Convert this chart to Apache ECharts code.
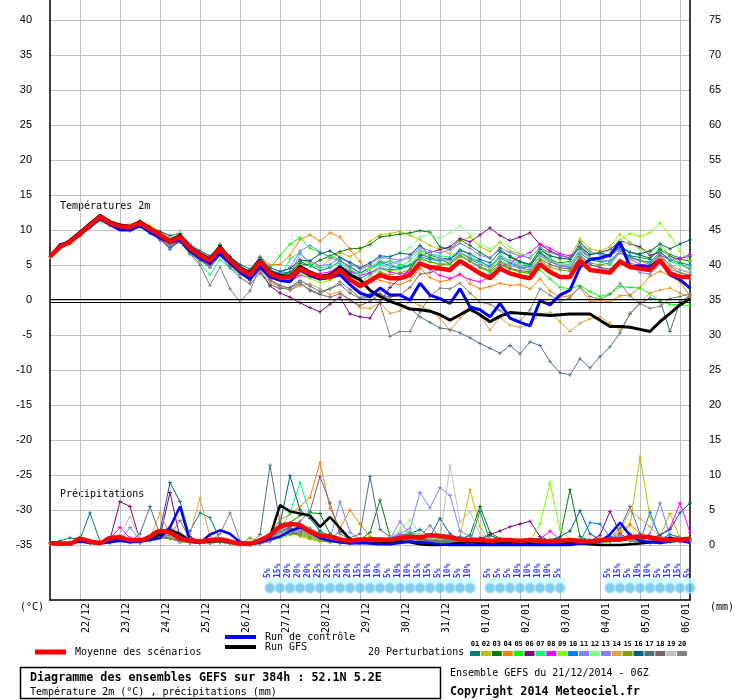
<!DOCTYPE html>
<html>
<head>
<meta charset="utf-8">
<script src="https://cdn.jsdelivr.net/npm/echarts@6/dist/echarts.min.js"></script>
<style>
  html, body { margin: 0; padding: 0; background: #fff; }
  #chart { width: 740px; height: 700px; }
</style>
</head>
<body>
<div id="chart"></div>
<script>
// pas de 6h depuis le 21/12 06Z, 65 échéances (0..384h)
const stepH = 6;
const dayLabels = ['22/12', '23/12', '24/12', '25/12', '26/12', '27/12', '28/12', '29/12',
    '30/12', '31/12', '01/01', '02/01', '03/01', '04/01', '05/01', '06/01'];
const leftTicks = [-35, -30, -25, -20, -15, -10, -5, 0, 5, 10, 15, 20, 25, 30, 35, 40];
const rightTicks = [0, 5, 10, 15, 20, 25, 30, 35, 40, 45, 50, 55, 60, 65, 70, 75];

const memberColors = ['#008080', '#c0c000', '#008000', '#ff8000', '#00ff00', '#800080', '#00ff80',
    '#ff00ff', '#80ff00', '#0080ff', '#8080ff', '#80ff80', '#8080f8', '#e0a040', '#80a000',
    '#006080', '#507080', '#806070', '#c0c0c0', '#808080'];

// températures 2m
const tMean = [6.2, 7.6, 8.3, 9.5, 10.7, 11.9, 11.0, 10.5, 10.4, 11.0, 10.1, 9.3, 8.3,
    9.0, 7.4, 6.4, 5.6, 7.4, 5.7, 4.4, 3.6, 5.5, 3.8, 3.2, 3.2, 4.5,
    3.8, 3.3, 3.3, 4.3, 2.9, 2.0, 2.7, 3.6, 3.1, 3.1, 3.6, 5.2, 4.7,
    4.5, 4.3, 5.6, 4.7, 3.8, 3.1, 4.5, 3.8, 3.4, 3.1, 5.1, 4.0, 3.3,
    3.3, 5.6, 4.3, 4.1, 3.9, 5.5, 4.7, 4.5, 4.3, 5.7, 3.8, 3.3, 3.3];
const tCtrl = [6.2, 7.9, 8.3, 9.3, 10.5, 11.6, 10.8, 10.0, 10.0, 10.6, 9.7, 8.9, 8.2,
    8.6, 7.0, 6.0, 5.2, 6.6, 5.3, 4.0, 3.0, 4.8, 3.3, 2.8, 2.6, 4.3,
    3.5, 3.0, 3.2, 3.6, 2.2, 1.0, 0.5, 1.7, 0.7, 0.7, 0.0, 2.4, 0.7,
    0.2, -0.5, 1.6, -1.0, -1.4, -2.4, -0.5, -2.6, -3.2, -3.7, -0.1, -0.7, 0.7,
    1.4, 4.7, 5.8, 6.0, 6.4, 8.3, 4.7, 4.9, 4.8, 5.7, 3.6, 2.9, 1.7];
const tGfs = [6.2, 7.7, 8.5, 9.7, 10.9, 12.1, 11.2, 10.7, 10.5, 11.2, 10.3, 9.4, 8.5,
    9.2, 7.6, 6.6, 5.8, 7.6, 5.9, 4.6, 3.9, 5.7, 4.0, 3.5, 3.4, 4.8,
    4.0, 3.4, 3.6, 4.7, 3.6, 2.9, 1.4, 0.5, -0.2, -0.7, -1.3, -1.4, -1.6,
    -2.1, -2.9, -2.1, -1.3, -2.1, -3.1, -2.3, -1.8, -1.9, -2.0, -2.1, -2.2, -2.1,
    -2.0, -2.0, -2.0, -2.9, -3.8, -3.8, -3.9, -4.2, -4.5, -3.1, -1.9, -0.7, 0.2];

const t01 = [6.2, 7.8, 8.4, 9.6, 10.9, 11.8, 11.1, 10.7, 10.6, 11.2, 10.0, 9.0, 8.6,
    9.3, 7.8, 6.8, 5.9, 7.6, 6.2, 4.9, 4.0, 5.8, 4.3, 3.8, 4.0, 5.5,
    4.9, 4.2, 4.6, 5.6, 4.8, 3.9, 4.5, 5.4, 4.9, 4.6, 5.0, 6.6, 6.0,
    5.8, 5.2, 6.9, 5.9, 5.1, 4.6, 6.2, 5.5, 4.9, 4.8, 6.8, 5.8, 5.2,
    5.0, 7.2, 6.0, 5.8, 5.4, 6.9, 6.3, 6.1, 5.8, 7.4, 6.5, 6.0, 6.2];
const t02 = [6.2, 7.5, 8.2, 9.4, 10.6, 11.7, 10.9, 10.4, 10.2, 10.9, 9.9, 9.1, 8.1,
    8.8, 7.2, 6.2, 5.3, 7.1, 5.5, 4.2, 3.4, 5.4, 3.6, 3.0, 3.5, 5.8,
    5.2, 4.6, 5.9, 6.8, 6.2, 7.0, 8.4, 9.3, 9.5, 9.8, 9.2, 8.6, 7.8,
    7.2, 6.6, 8.4, 9.0, 7.6, 6.9, 8.2, 7.0, 6.6, 5.9, 7.6, 6.4, 5.8,
    6.0, 8.8, 7.3, 7.0, 7.6, 9.4, 8.2, 7.4, 6.9, 8.0, 6.4, 5.4, 5.0];
const t03 = [6.2, 7.7, 8.4, 9.6, 10.8, 12.0, 11.2, 10.6, 10.5, 11.1, 10.3, 9.6, 8.7,
    9.3, 7.6, 6.7, 6.0, 7.9, 6.1, 4.6, 3.9, 5.7, 4.3, 3.6, 3.9, 5.2,
    4.9, 5.7, 6.3, 6.9, 7.3, 7.4, 7.9, 9.0, 9.2, 9.4, 9.6, 9.9, 9.7,
    7.6, 7.2, 8.6, 7.8, 6.8, 6.0, 7.3, 6.1, 5.4, 5.0, 6.7, 5.6, 5.3,
    5.5, 8.3, 6.9, 6.5, 6.2, 7.8, 6.8, 6.4, 6.0, 7.2, 6.2, 5.8, 5.6];
const t04 = [6.2, 7.6, 8.2, 9.3, 10.5, 11.6, 11.0, 10.8, 10.8, 11.3, 10.6, 9.8, 8.9,
    9.3, 7.8, 6.9, 6.1, 7.7, 6.0, 4.7, 4.0, 6.2, 5.0, 5.1, 6.4, 8.6,
    9.3, 8.4, 9.6, 9.0, 7.2, 5.5, 3.6, 2.8, 2.4, 2.2, 2.8, 4.5, 3.2,
    2.6, 2.9, 3.8, 2.3, 1.6, 1.9, 2.4, 2.1, 2.2, 1.6, 3.0, 1.3, 0.4,
    0.6, 1.8, -0.2, -0.1, -0.3, 0.6, 0.7, 1.8, 3.4, 4.1, 3.5, 2.6, 0.6];
const t05 = [6.2, 7.7, 8.3, 9.4, 10.6, 11.7, 11.0, 10.5, 10.3, 11.0, 10.2, 9.2, 8.2,
    8.9, 7.3, 6.3, 5.4, 7.2, 5.5, 4.3, 3.6, 5.4, 4.6, 6.3, 8.0, 8.9,
    7.4, 6.8, 6.2, 5.8, 4.4, 3.6, 4.4, 5.2, 5.6, 5.0, 4.8, 6.0, 5.4,
    5.2, 5.1, 6.2, 5.6, 4.6, 4.0, 5.0, 4.4, 4.0, 3.8, 4.3, 3.0, 1.8,
    1.6, 2.1, 1.2, 0.5, 0.9, 1.9, 1.8, 1.7, 0.9, -0.2, -0.6, -0.7, -0.8];
const t06 = [6.2, 7.5, 8.2, 9.4, 10.6, 11.8, 10.8, 10.3, 10.3, 10.9, 10.0, 9.2, 8.2,
    8.8, 7.1, 6.1, 5.3, 7.0, 5.2, 3.9, 2.8, 4.2, 2.0, 1.0, 0.4, -0.4,
    -1.1, -1.7, -0.6, 0.4, -2.0, -2.4, -2.6, -0.3, 1.8, 3.1, 4.4, 6.3, 6.8,
    7.2, 7.6, 8.8, 8.3, 9.3, 10.3, 9.2, 8.5, 9.0, 9.6, 7.9, 7.0, 6.4,
    6.0, 7.6, 6.5, 6.8, 7.2, 8.5, 8.0, 7.6, 6.4, 6.8, 5.8, 5.2, 4.4];
const t07 = [6.2, 7.6, 8.3, 9.3, 10.5, 11.4, 10.7, 10.2, 10.2, 10.8, 9.8, 8.9, 7.8,
    8.3, 6.5, 5.2, 3.6, 5.8, 4.6, 3.7, 3.3, 6.0, 4.5, 3.0, 5.9, 6.8,
    5.0, 4.6, 4.8, 5.3, 4.2, 3.6, 4.5, 5.1, 4.6, 4.8, 5.6, 7.0, 6.6,
    6.3, 6.1, 7.2, 6.5, 5.4, 4.8, 6.4, 5.6, 5.2, 5.0, 7.5, 6.0, 5.1,
    4.9, 7.3, 6.1, 5.5, 5.0, 6.8, 6.1, 5.7, 5.3, 6.9, 5.5, 5.0, 4.6];
const t08 = [6.2, 7.6, 8.4, 9.5, 10.6, 11.8, 11.1, 10.5, 10.2, 10.8, 9.6, 8.6, 7.6,
    8.7, 7.1, 6.0, 5.2, 7.2, 5.5, 4.3, 3.7, 5.0, 3.6, 2.9, 2.7, 3.5,
    3.3, 3.8, 4.0, 4.9, 4.1, 3.5, 3.9, 4.6, 4.0, 3.7, 4.0, 5.4, 4.4,
    3.5, 3.1, 3.6, 2.9, 2.6, 3.3, 4.8, 5.3, 6.2, 6.8, 8.0, 7.4, 6.6,
    6.3, 7.5, 6.1, 5.8, 5.4, 6.7, 5.9, 5.1, 4.9, 6.4, 5.8, 5.9, 6.5];
const t09 = [6.2, 7.5, 8.1, 9.1, 10.3, 11.2, 10.6, 10.2, 10.0, 10.7, 9.8, 9.0, 8.0,
    8.7, 7.0, 6.0, 5.4, 7.1, 5.6, 4.3, 3.4, 5.2, 3.4, 2.8, 2.8, 3.8,
    3.1, 2.5, 2.8, 3.6, 2.9, 2.4, 3.5, 4.4, 4.2, 4.3, 4.9, 6.7, 6.2,
    5.7, 5.5, 6.5, 6.0, 5.2, 4.5, 5.7, 5.1, 4.5, 4.1, 6.0, 5.4, 5.0,
    4.8, 6.9, 6.0, 5.7, 6.4, 8.5, 9.5, 9.1, 9.6, 11.0, 9.2, 7.0, 5.6];
const t10 = [6.2, 7.8, 8.5, 9.6, 10.8, 12.0, 11.2, 10.4, 9.9, 10.5, 9.5, 8.8, 7.2,
    8.6, 7.5, 6.5, 5.8, 7.6, 6.0, 4.6, 3.9, 5.8, 4.3, 3.5, 3.2, 4.4,
    3.6, 3.0, 3.6, 4.9, 3.9, 3.1, 3.8, 4.6, 4.3, 4.5, 4.9, 6.2, 5.8,
    5.6, 5.9, 6.8, 6.0, 5.5, 4.8, 6.0, 5.3, 4.7, 4.6, 6.3, 5.5, 4.9,
    4.6, 6.7, 5.7, 5.5, 5.6, 7.0, 6.2, 5.6, 5.4, 6.8, 5.8, 5.3, 5.0];
const t11 = [6.2, 7.7, 8.4, 9.5, 10.7, 11.9, 11.0, 10.3, 10.1, 10.7, 9.7, 8.6, 7.6,
    8.6, 7.2, 6.3, 5.7, 7.4, 5.9, 4.6, 3.8, 5.7, 4.3, 3.8, 4.6, 7.0,
    7.8, 6.9, 6.0, 5.6, 4.7, 3.8, 4.7, 5.6, 5.2, 5.6, 6.3, 7.6, 7.0,
    6.7, 7.2, 8.1, 7.4, 6.4, 6.0, 7.5, 6.8, 6.3, 6.0, 7.4, 6.8, 6.3,
    6.0, 7.9, 6.9, 6.5, 6.3, 7.2, 5.2, 3.9, 3.7, 5.2, 3.8, 3.4, 3.0];
const t12 = [6.2, 7.6, 8.2, 9.2, 10.4, 11.4, 10.7, 10.3, 10.1, 10.6, 9.8, 9.1, 8.2,
    8.7, 7.2, 6.3, 5.4, 7.2, 5.6, 4.4, 3.6, 5.5, 3.8, 3.1, 3.0, 4.1,
    3.7, 3.2, 3.4, 4.5, 3.6, 3.6, 4.5, 5.8, 6.2, 6.8, 7.5, 9.0, 9.4,
    8.8, 9.6, 10.6, 9.3, 8.0, 7.3, 8.4, 7.6, 6.6, 6.3, 7.1, 6.0, 5.2,
    5.4, 7.7, 6.8, 6.6, 7.0, 8.3, 8.1, 7.2, 6.8, 7.6, 6.0, 5.0, 4.3];
const t13 = [6.2, 7.5, 8.3, 9.4, 10.6, 11.7, 10.9, 10.4, 10.3, 10.9, 10.0, 9.2, 8.3,
    8.9, 7.2, 6.2, 5.5, 7.3, 5.8, 4.5, 3.8, 5.5, 3.9, 3.3, 3.7, 6.6,
    5.5, 4.9, 5.1, 6.0, 5.2, 4.4, 5.0, 6.1, 5.9, 5.7, 6.0, 7.3, 6.6,
    6.0, 5.5, 6.4, 5.6, 4.8, 4.2, 5.5, 4.9, 4.6, 4.3, 6.4, 5.6, 5.0,
    4.7, 6.5, 5.1, 4.6, 4.2, 5.6, 4.9, 4.4, 4.1, 5.8, 4.4, 3.9, 3.6];
const t14 = [6.2, 7.7, 8.4, 9.5, 10.7, 11.9, 11.1, 10.6, 10.6, 11.1, 10.3, 9.5, 8.6,
    9.0, 7.5, 6.6, 5.7, 7.3, 5.3, 3.9, 2.9, 4.1, 2.5, 1.8, 1.4, 2.0,
    2.3, 1.6, 0.8, 1.2, 0.0, -1.1, -1.2, -0.4, -1.9, -1.6, -0.1, -0.8, -1.5,
    -2.6, -4.4, -2.6, -1.4, -2.2, -4.3, -2.5, -3.6, -3.9, -3.5, -2.0, -1.8, -3.1,
    -4.5, -3.3, -2.7, -2.4, -3.3, -4.3, -2.1, -0.3, 1.0, 1.4, 1.7, 1.0, 0.4];
const t15 = [6.2, 7.6, 8.3, 9.4, 10.5, 11.6, 10.8, 10.4, 10.3, 10.8, 10.1, 9.4, 8.5,
    9.1, 7.4, 6.4, 5.8, 7.5, 5.9, 4.6, 3.7, 5.3, 3.7, 3.1, 3.2, 4.0,
    3.4, 3.0, 3.1, 3.9, 3.0, 2.3, 3.0, 4.0, 3.6, 3.9, 4.3, 5.8, 5.5,
    5.0, 5.2, 6.3, 5.5, 4.6, 4.2, 5.4, 4.6, 4.0, 3.8, 5.6, 4.7, 4.3,
    4.1, 6.2, 5.3, 5.0, 5.3, 6.8, 6.0, 5.6, 5.1, 6.6, 4.8, 3.9, 3.5];
const t16 = [6.2, 7.6, 8.4, 9.6, 10.9, 11.9, 11.0, 10.5, 10.4, 11.0, 10.2, 9.8, 9.2,
    9.5, 8.0, 7.0, 6.3, 7.8, 6.2, 5.1, 4.4, 6.1, 4.6, 4.1, 4.5, 5.7,
    5.6, 6.6, 7.0, 6.1, 5.4, 4.6, 5.3, 6.3, 6.2, 6.7, 6.5, 7.8, 6.4,
    6.0, 5.8, 7.1, 6.6, 5.8, 5.3, 6.9, 6.3, 5.5, 5.1, 7.2, 6.3, 6.0,
    5.8, 7.6, 6.5, 6.7, 6.4, 7.5, 6.8, 6.6, 7.0, 8.0, 7.3, 8.0, 8.6];
const t17 = [6.2, 7.7, 8.5, 9.7, 10.9, 12.0, 11.1, 10.4, 10.1, 10.7, 9.7, 8.6, 7.5,
    8.3, 6.8, 5.7, 4.6, 6.4, 4.6, 3.2, 2.3, 3.8, 2.2, 1.6, 1.8, 2.8,
    2.0, 1.2, 1.6, 2.2, 1.0, 0.2, 0.4, 0.9, 0.0, -0.7, -1.2, -2.4, -3.2,
    -4.0, -4.2, -4.7, -5.4, -6.2, -6.9, -7.6, -6.5, -7.7, -6.0, -6.5, -8.8, -10.4,
    -10.7, -8.4, -9.7, -8.1, -6.7, -4.7, -1.9, -0.5, 0.3, 0.0, -4.5, -0.2, 0.6];
const t18 = [6.2, 7.5, 8.1, 9.2, 10.3, 11.5, 10.6, 10.1, 10.0, 10.6, 9.6, 8.7, 7.6,
    8.3, 6.6, 5.6, 4.9, 6.7, 5.0, 3.7, 2.8, 4.4, 2.9, 2.1, 1.7, 2.5,
    1.3, 0.8, 0.4, 0.9, 0.0, -0.8, -0.2, 0.8, 0.4, 0.7, 1.8, 3.7, 3.9,
    4.4, 4.1, 5.4, 4.6, 3.9, 3.6, 5.1, 4.5, 4.2, 4.0, 5.8, 5.1, 4.6,
    4.4, 6.0, 5.0, 4.7, 4.4, 5.7, 5.2, 5.0, 4.8, 6.2, 5.0, 4.3, 3.9];
const t19 = [6.2, 7.6, 8.3, 9.4, 10.6, 11.7, 10.9, 10.5, 10.6, 11.0, 10.0, 9.4, 8.8,
    9.9, 8.1, 6.7, 5.7, 7.2, 5.6, 4.4, 3.6, 5.2, 3.6, 3.0, 3.1, 4.0,
    3.5, 3.0, 3.2, 4.1, 3.2, 2.6, 3.4, 4.6, 5.0, 5.4, 6.2, 7.3, 6.6,
    6.0, 5.5, 6.8, 6.2, 5.2, 4.6, 6.1, 5.5, 4.9, 4.6, 6.3, 5.6, 5.1,
    5.0, 6.9, 6.0, 5.8, 5.4, 6.8, 5.8, 5.0, 4.4, 6.0, 5.0, 4.3, 4.0];
const t20 = [6.2, 7.6, 8.3, 9.5, 10.6, 11.8, 10.9, 10.3, 10.2, 10.7, 9.9, 9.0, 7.9,
    8.5, 6.7, 5.0, 2.1, 4.7, 1.6, -0.3, 1.3, 4.8, 2.8, 1.9, 1.4, 2.3,
    1.5, 0.9, 1.6, 2.6, 1.5, 0.3, 0.9, -0.5, -5.2, -4.5, -4.5, -1.7, 0.5,
    1.7, 1.6, 2.4, 1.0, -0.3, -0.6, -1.5, -2.6, -3.0, -1.4, 1.6, 0.7, -0.2,
    0.3, 1.9, 0.5, 0.1, 0.8, 2.4, 0.6, -0.5, -1.2, -0.9, 0.2, 0.5, 0.9];

// précipitations (mm, axe de droite)
const pMean = [0.3, 0.2, 0.2, 0.9, 0.5, 0.3, 1.0, 1.1, 0.7, 0.7, 1.2, 2.0, 1.8,
    0.9, 0.7, 0.5, 0.7, 0.8, 0.5, 0.2, 0.2, 0.7, 1.4, 2.6, 3.0, 2.8,
    1.9, 1.4, 1.2, 0.8, 0.6, 0.8, 0.8, 0.8, 0.7, 1.0, 1.1, 1.1, 1.4,
    1.3, 1.1, 0.8, 0.7, 0.7, 0.6, 0.7, 0.7, 0.6, 0.7, 0.6, 0.5, 0.6,
    0.7, 0.6, 0.5, 0.7, 0.8, 0.8, 1.1, 1.2, 1.1, 0.8, 0.7, 0.8, 0.9];
const pCtrl = [0.2, 0.1, 0.2, 0.5, 0.3, 0.2, 0.4, 0.6, 0.4, 0.5, 0.7, 1.0, 2.5,
    5.5, 0.5, 0.3, 1.5, 2.1, 1.6, 0.4, 0.2, 0.4, 0.8, 1.2, 2.0, 2.5,
    1.8, 1.0, 0.6, 0.4, 0.2, 0.3, 0.2, 0.1, 0.1, 0.3, 0.5, 0.4, 0.3,
    0.1, 0.0, 0.0, 0.0, 0.0, 0.0, 0.0, 0.0, 0.0, 0.0, 0.0, 0.0, 0.0,
    0.0, 0.2, 0.3, 0.5, 1.5, 3.2, 1.4, 0.6, 0.4, 0.3, 0.5, 0.6, 0.3];
const pGfs = [0.3, 0.2, 0.2, 0.8, 0.4, 0.3, 0.8, 1.0, 0.6, 0.6, 1.0, 1.5, 2.1,
    1.6, 0.6, 0.4, 0.5, 0.6, 0.4, 0.2, 0.1, 0.4, 1.2, 5.7, 4.8, 4.5,
    4.2, 2.6, 4.0, 2.4, 0.8, 0.4, 0.3, 0.2, 0.3, 0.5, 0.4, 0.1, 0.0,
    0.0, 0.1, 0.3, 0.4, 0.3, 0.2, 0.3, 0.4, 0.3, 0.2, 0.1, 0.2, 0.3,
    0.3, 0.2, 0.1, 0.0, 0.0, 0.0, 0.1, 0.2, 0.4, 0.6, 1.0, 0.8, 1.0];

const p01 = [0.3, 0.6, 1.0, 0.8, 4.6, 0.5, 0.3, 0.6, 0.4, 0.3, 0.7, 1.2, 1.0,
    0.4, 2.0, 4.6, 3.9, 0.8, 0.3, 0.1, 0.0, 0.3, 0.8, 1.8, 2.4, 1.6,
    1.2, 0.9, 0.6, 0.4, 0.3, 0.6, 0.8, 0.5, 0.4, 0.9, 1.5, 0.7, 0.6,
    0.8, 0.4, 0.3, 0.5, 4.8, 0.6, 0.3, 0.4, 0.2, 0.2, 0.3, 0.5, 0.4,
    0.3, 0.6, 0.5, 0.8, 1.0, 0.7, 0.9, 0.5, 0.6, 0.8, 1.5, 1.1, 0.9];
const p02 = [0.2, 0.2, 0.4, 0.6, 0.3, 0.2, 0.5, 0.8, 0.6, 0.4, 0.9, 1.6, 1.2,
    0.6, 0.4, 0.2, 0.3, 0.5, 0.2, 0.1, 0.1, 0.2, 0.6, 1.4, 2.0, 1.2,
    0.8, 0.5, 0.6, 0.3, 0.4, 0.5, 0.6, 0.5, 0.8, 1.0, 1.2, 0.9, 1.4,
    1.0, 0.8, 1.2, 7.9, 2.6, 0.4, 0.5, 0.3, 0.6, 0.4, 0.3, 0.5, 0.3,
    0.2, 0.4, 0.6, 0.3, 0.8, 1.5, 2.8, 12.6, 4.0, 1.2, 4.5, 1.0, 0.6];
const p03 = [0.3, 0.2, 0.3, 0.5, 0.4, 0.3, 0.6, 0.7, 0.4, 0.5, 0.8, 1.8, 2.6,
    1.4, 0.6, 0.4, 0.3, 0.4, 0.3, 0.2, 0.1, 0.3, 1.0, 2.5, 3.2, 4.2,
    4.6, 4.5, 1.6, 0.8, 0.5, 0.7, 1.8, 6.4, 1.2, 0.8, 0.6, 0.9, 1.0,
    0.7, 0.5, 0.8, 1.4, 5.5, 1.8, 0.9, 0.6, 0.4, 0.3, 0.5, 0.8, 1.0,
    7.9, 1.2, 0.6, 0.4, 0.5, 0.7, 1.6, 0.8, 0.6, 1.2, 0.9, 0.7, 0.5];
const p04 = [0.2, 0.3, 0.2, 0.4, 0.3, 0.2, 0.5, 0.9, 0.5, 0.6, 1.0, 1.4, 1.6,
    1.0, 0.6, 0.3, 0.5, 0.6, 0.3, 0.2, 0.1, 0.4, 1.6, 3.6, 4.4, 5.5,
    6.8, 11.8, 5.2, 2.4, 5.0, 3.0, 1.2, 0.8, 0.6, 0.9, 1.1, 0.8, 0.7,
    0.6, 0.5, 0.4, 0.6, 0.5, 1.4, 0.8, 0.5, 0.4, 0.3, 0.4, 0.6, 0.5,
    0.4, 0.7, 0.6, 0.5, 0.8, 1.8, 3.0, 1.6, 0.9, 0.7, 0.6, 0.5, 0.8];
const p05 = [0.3, 0.2, 0.3, 1.2, 0.5, 0.3, 0.6, 0.8, 0.5, 0.6, 0.9, 1.3, 1.2,
    0.8, 0.5, 0.3, 0.4, 0.5, 0.3, 0.2, 0.1, 0.2, 0.8, 1.6, 2.2, 2.8,
    2.4, 1.6, 1.0, 0.6, 0.4, 0.5, 0.6, 0.7, 0.8, 1.2, 1.9, 1.4, 1.0,
    0.9, 0.7, 0.5, 0.6, 0.8, 0.6, 0.4, 0.5, 0.6, 0.4, 0.3, 0.7, 0.6,
    0.5, 0.8, 0.4, 0.3, 0.6, 0.9, 1.2, 0.8, 0.5, 0.4, 0.6, 0.8, 0.7];
const p06 = [0.2, 0.2, 0.3, 0.6, 0.4, 0.3, 0.8, 6.2, 5.5, 0.6, 0.8, 1.2, 7.5,
    1.0, 0.4, 0.3, 0.4, 0.5, 0.2, 0.1, 0.1, 0.2, 0.6, 1.2, 1.8, 1.6,
    1.2, 0.8, 0.6, 0.4, 0.3, 0.4, 0.5, 0.4, 0.6, 0.8, 1.0, 0.7, 0.6,
    0.5, 0.4, 0.6, 0.5, 0.8, 1.5, 2.0, 2.6, 3.0, 3.4, 1.2, 0.6, 0.5,
    0.4, 0.6, 0.5, 1.4, 4.8, 1.6, 0.8, 0.5, 0.4, 0.6, 0.5, 0.7, 0.6];
const p07 = [0.3, 0.3, 0.2, 0.5, 0.6, 0.3, 0.5, 0.7, 0.5, 0.4, 0.8, 1.4, 1.1,
    0.7, 0.5, 0.3, 0.4, 0.6, 0.3, 0.2, 0.1, 0.3, 0.9, 2.2, 4.6, 8.9,
    4.5, 2.0, 1.2, 0.8, 0.6, 0.5, 0.7, 0.6, 0.9, 1.4, 1.8, 1.1, 0.8,
    0.6, 0.5, 0.4, 0.5, 0.6, 0.5, 0.3, 0.4, 0.5, 0.3, 0.4, 0.6, 0.5,
    0.4, 0.5, 0.6, 0.4, 0.7, 1.0, 0.8, 0.6, 0.5, 0.4, 0.6, 0.7, 0.5];
const p08 = [0.2, 0.2, 0.3, 0.8, 0.5, 0.3, 0.9, 2.5, 1.0, 0.6, 0.7, 1.0, 1.1,
    0.6, 0.4, 0.2, 0.3, 0.4, 0.2, 0.1, 0.0, 0.2, 0.5, 1.4, 2.2, 2.4,
    1.6, 0.9, 0.5, 0.3, 0.3, 0.4, 0.5, 0.6, 0.7, 1.6, 1.2, 0.8, 0.6,
    0.5, 0.4, 0.3, 0.5, 0.4, 0.6, 0.8, 0.5, 0.4, 0.6, 0.8, 2.0, 0.7,
    0.5, 0.4, 0.6, 0.5, 0.7, 0.9, 0.8, 0.6, 0.7, 1.4, 2.4, 6.0, 1.8];
const p09 = [0.3, 0.2, 0.2, 0.5, 0.3, 0.2, 0.4, 0.6, 0.4, 0.3, 0.6, 1.0, 0.9,
    0.5, 0.3, 0.2, 0.3, 0.4, 0.2, 0.1, 0.1, 0.2, 0.6, 1.0, 1.4, 1.6,
    1.2, 0.7, 0.4, 0.3, 0.2, 0.3, 0.4, 0.3, 0.5, 0.8, 1.0, 0.6, 0.4,
    0.4, 0.3, 0.4, 0.5, 0.4, 0.3, 0.2, 0.3, 0.4, 0.5, 3.0, 8.9, 2.2,
    0.8, 0.5, 0.4, 0.3, 0.5, 0.6, 0.8, 0.5, 0.4, 0.3, 0.5, 0.7, 0.6];
const p10 = [0.2, 0.3, 0.2, 0.6, 0.4, 0.3, 0.5, 0.8, 0.6, 0.5, 0.8, 1.2, 1.0,
    0.6, 0.4, 0.3, 0.4, 0.6, 0.3, 0.2, 0.1, 0.2, 0.6, 1.2, 1.6, 1.8,
    1.4, 0.8, 0.5, 0.4, 0.3, 0.5, 0.6, 0.5, 0.7, 1.0, 1.3, 0.9, 0.7,
    0.6, 0.8, 1.2, 0.9, 0.6, 0.4, 0.3, 0.5, 0.4, 0.3, 0.4, 0.5, 0.4,
    0.3, 0.5, 3.2, 3.0, 1.2, 0.8, 0.6, 0.5, 4.7, 0.9, 0.6, 0.5, 0.8];
const p11 = [0.3, 0.2, 0.3, 0.7, 0.5, 0.3, 0.6, 1.0, 0.7, 0.5, 0.9, 1.6, 2.2,
    0.9, 0.5, 0.3, 0.5, 0.6, 0.3, 0.2, 0.1, 0.3, 1.0, 2.0, 2.6, 3.0,
    2.2, 1.4, 0.9, 6.2, 1.8, 0.8, 0.6, 0.7, 1.0, 1.6, 2.4, 7.5, 5.3,
    8.2, 7.1, 2.0, 1.2, 0.8, 0.6, 0.4, 0.5, 0.6, 0.4, 0.5, 0.6, 0.5,
    0.4, 0.6, 0.8, 0.5, 0.9, 1.4, 1.0, 0.8, 1.6, 6.0, 1.2, 0.8, 0.6];
const p12 = [0.2, 0.2, 0.3, 0.5, 0.4, 0.3, 0.5, 0.6, 0.5, 0.4, 0.7, 1.1, 1.0,
    0.6, 0.4, 0.2, 0.3, 0.5, 0.3, 0.1, 0.1, 0.2, 0.7, 1.4, 1.8, 2.4,
    1.6, 1.0, 0.6, 0.4, 0.3, 0.4, 0.5, 0.6, 0.9, 2.2, 3.6, 1.6, 0.8,
    0.6, 0.5, 0.4, 0.6, 0.5, 0.4, 0.3, 0.4, 0.5, 0.4, 0.6, 0.8, 0.5,
    0.4, 0.5, 0.6, 0.4, 0.6, 0.8, 0.7, 0.5, 0.6, 0.5, 0.7, 0.9, 0.6];
const p13 = [0.3, 0.2, 0.2, 0.6, 0.4, 0.2, 0.5, 0.7, 2.5, 0.6, 0.7, 1.3, 1.2,
    0.7, 0.4, 0.3, 0.4, 0.5, 0.2, 0.1, 0.1, 0.3, 0.8, 1.6, 2.0, 2.2,
    1.8, 1.1, 0.7, 0.5, 0.4, 0.5, 0.6, 0.5, 0.8, 3.4, 1.5, 1.0, 0.7,
    0.6, 0.5, 0.7, 0.6, 0.5, 0.6, 0.4, 0.3, 0.4, 0.5, 0.6, 0.7, 0.4,
    0.3, 0.4, 0.5, 0.6, 0.8, 1.2, 0.9, 0.6, 0.5, 0.7, 0.8, 0.6, 0.5];
const p14 = [0.2, 0.2, 0.3, 0.6, 0.4, 0.3, 0.6, 0.9, 0.7, 0.6, 1.0, 4.6, 1.4,
    0.8, 1.6, 6.7, 1.2, 0.6, 0.3, 0.2, 0.0, 0.2, 0.6, 1.4, 2.0, 1.8,
    1.4, 0.8, 0.5, 0.4, 0.3, 0.5, 0.6, 0.4, 0.6, 1.0, 1.4, 1.0, 0.7,
    0.5, 0.4, 0.6, 0.5, 0.4, 0.3, 0.5, 0.6, 0.4, 0.3, 0.5, 0.6, 0.4,
    0.3, 0.5, 0.6, 0.4, 0.8, 2.0, 4.9, 3.8, 2.6, 1.2, 0.8, 0.6, 0.5];
const p15 = [0.3, 0.2, 0.2, 0.5, 0.3, 0.2, 0.4, 0.6, 0.5, 0.4, 0.7, 1.0, 0.9,
    0.5, 0.3, 0.2, 0.3, 0.4, 0.2, 0.1, 1.0, 0.4, 0.6, 1.2, 1.6, 1.4,
    1.0, 0.6, 0.4, 0.3, 0.2, 0.3, 0.4, 0.3, 0.5, 0.7, 0.9, 0.6, 0.5,
    0.4, 0.3, 0.4, 0.5, 0.3, 0.2, 0.3, 0.4, 0.3, 0.2, 0.4, 0.5, 0.3,
    0.2, 0.4, 0.5, 0.3, 0.5, 0.7, 0.6, 0.4, 0.3, 0.4, 0.5, 0.6, 0.4];
const p16 = [0.3, 0.3, 0.2, 0.6, 0.5, 0.3, 0.6, 0.8, 0.6, 0.5, 0.9, 2.0, 8.9,
    6.2, 1.2, 0.5, 0.4, 0.5, 0.3, 0.2, 0.1, 0.3, 1.2, 3.0, 9.9, 5.0,
    3.8, 2.0, 1.2, 0.8, 0.6, 0.7, 0.9, 0.8, 1.0, 1.2, 1.6, 2.2, 1.2,
    3.8, 1.6, 0.8, 0.6, 1.0, 1.4, 0.8, 0.5, 0.6, 0.8, 0.9, 0.6, 1.2,
    2.0, 4.9, 1.6, 0.8, 0.6, 0.9, 1.2, 0.8, 1.0, 1.4, 2.2, 4.6, 6.0];
const p17 = [0.2, 0.2, 0.3, 0.6, 0.4, 0.3, 0.6, 0.8, 0.5, 1.6, 5.5, 1.4, 1.2,
    0.8, 0.5, 0.3, 0.4, 0.5, 0.3, 0.2, 0.1, 1.5, 11.4, 3.2, 2.4, 2.0,
    1.6, 1.0, 0.8, 2.0, 1.0, 1.6, 9.8, 2.2, 1.2, 0.9, 1.0, 0.8, 0.6,
    0.5, 0.4, 0.5, 0.6, 0.4, 0.3, 0.4, 0.5, 0.4, 0.3, 0.5, 0.6, 0.4,
    0.3, 0.5, 0.4, 0.6, 0.9, 2.4, 5.5, 1.6, 0.8, 0.6, 0.9, 0.7, 0.5];
const p18 = [0.3, 0.2, 0.2, 0.5, 0.4, 0.2, 0.5, 0.7, 0.5, 0.4, 0.8, 1.2, 1.0,
    0.6, 0.4, 0.3, 0.4, 0.5, 0.3, 0.2, 0.1, 0.3, 0.9, 1.8, 2.6, 3.4,
    4.8, 9.8, 6.0, 1.6, 0.8, 0.6, 0.7, 0.6, 0.8, 1.0, 1.2, 0.9, 0.7,
    0.6, 0.5, 0.4, 0.5, 0.4, 0.3, 0.4, 0.5, 0.4, 0.3, 0.4, 0.6, 0.5,
    0.4, 0.5, 0.6, 0.5, 0.7, 1.0, 0.8, 0.6, 0.5, 0.6, 0.8, 0.7, 0.6];
const p19 = [0.2, 0.2, 0.3, 0.6, 0.4, 0.3, 0.6, 1.5, 4.0, 0.8, 0.9, 1.4, 1.2,
    0.7, 0.5, 0.3, 0.4, 0.5, 0.3, 0.1, 0.1, 0.3, 0.8, 1.6, 2.0, 2.2,
    1.6, 1.0, 0.7, 0.5, 0.4, 0.5, 0.6, 0.8, 1.2, 1.8, 2.0, 1.4, 1.0,
    0.8, 11.4, 3.3, 4.8, 1.6, 0.8, 0.5, 0.6, 0.4, 0.3, 0.5, 0.6, 0.4,
    0.3, 0.5, 0.6, 0.4, 0.6, 0.9, 0.7, 0.5, 0.6, 0.5, 0.7, 0.8, 0.6];
const p20 = [0.3, 0.2, 0.2, 0.6, 0.4, 0.3, 0.5, 0.8, 0.5, 0.4, 0.7, 1.2, 1.4,
    3.5, 0.8, 0.4, 0.6, 1.6, 4.6, 0.6, 0.2, 0.4, 1.0, 2.2, 2.8, 3.0,
    2.4, 1.6, 1.0, 0.7, 0.5, 0.6, 0.7, 0.6, 0.8, 1.2, 1.6, 1.2, 2.8,
    1.0, 0.6, 0.5, 0.6, 0.5, 0.4, 0.5, 0.6, 0.5, 0.4, 0.5, 0.7, 0.5,
    0.4, 0.6, 0.5, 0.4, 0.6, 0.8, 0.7, 0.5, 0.6, 0.5, 0.8, 0.9, 0.7];

// probabilité de neige (%) par échéance, null = rien
const snowPct = [null, null, null, null, null, null, null, null, null, null, null, null, null,
    null, null, null, null, null, null, null, null, null, 5, 15, 20, 20,
    20, 25, 25, 25, 20, 15, 10, 10, 5, 10, 10, 15, 15,
    5, 10, 5, 10, null, 5, 5, 5, 10, 10, 10, 10, 5,
    null, null, null, null, 5, 15, 5, 10, 10, 5, 15, 15, 5];

const memberTemps = [t01, t02, t03, t04, t05, t06, t07, t08, t09, t10,
    t11, t12, t13, t14, t15, t16, t17, t18, t19, t20];
const memberPrecs = [p01, p02, p03, p04, p05, p06, p07, p08, p09, p10,
    p11, p12, p13, p14, p15, p16, p17, p18, p19, p20];

const MONO = '"DejaVu Sans Mono", "Liberation Mono", monospace';
const SANS = '"Liberation Sans", Arial, sans-serif';
const PX_PER_DEG = 7;
const halfRange = 300 / PX_PER_DEG;      // plot 600px haut, 0°C au milieu
const precOffset = 35;                    // 0 mm = -35 °C

function toPairs(arr) {
    return arr.map((v, k) => [k * stepH, v]);
}

const gridHours = dayLabels.map((d, i) => 18 + 24 * i);
const labelHours = gridHours.map(h => h + 3.6);
const plusSymbol = 'path://M2,0H3V2H5V3H3V5H2V3H0V2H2Z';

let series = [];

// double ligne du zéro
series.push({
    type: 'line', data: [], silent: true, z: 1,
    markLine: {
        silent: true, symbol: 'none', label: {show: false},
        lineStyle: {color: '#000', width: 1, type: 'solid'},
        data: [{yAxis: 0.15}, {yAxis: -0.25}]
    }
});

memberTemps.forEach((arr, i) => {
    series.push({
        name: 'T' + (i + 1), type: 'line', yAxisIndex: 0, data: toPairs(arr),
        symbol: plusSymbol, symbolSize: 4, showAllSymbol: true,
        lineStyle: {color: memberColors[i], width: 1},
        itemStyle: {color: memberColors[i]}, z: 2
    });
});
memberPrecs.forEach((arr, i) => {
    series.push({
        name: 'P' + (i + 1), type: 'line', yAxisIndex: 1, data: toPairs(arr),
        symbol: plusSymbol, symbolSize: 4, showAllSymbol: true,
        lineStyle: {color: memberColors[i], width: 1},
        itemStyle: {color: memberColors[i]}, z: 2
    });
});

const mains = [
    {t: tGfs, p: pGfs, color: '#000000', wt: 3, wp: 2.5, smooth: false},
    {t: tCtrl, p: pCtrl, color: '#0000ff', wt: 3, wp: 2.5, smooth: false},
    {t: tMean, p: pMean, color: '#ff0000', wt: 4.5, wp: 4.5, smooth: 0.4}
];
mains.forEach(m => {
    series.push({
        type: 'line', yAxisIndex: 0, data: toPairs(m.t), symbol: 'none',
        lineStyle: {color: m.color, width: m.wt}, z: 3
    });
    series.push({
        type: 'line', yAxisIndex: 1, data: toPairs(m.p), symbol: 'none', smooth: m.smooth,
        lineStyle: {color: m.color, width: m.wp}, z: 3
    });
});

// bandeau neige
const snowPts = [];
snowPct.forEach((v, k) => {
    if (v !== null) snowPts.push({k: k, v: v});
});
series.push({
    type: 'scatter', yAxisIndex: 0, silent: true, z: 4,
    symbol: 'rect', symbolSize: [10, 5],
    itemStyle: {color: '#ccffff'},
    data: snowPts.map(s => [s.k * stepH, (300 - 580.5) / PX_PER_DEG])
});
series.push({
    type: 'scatter', yAxisIndex: 0, silent: true, z: 5,
    symbol: 'circle', symbolSize: 10,
    itemStyle: {color: '#62c2ec', borderColor: '#a8e2f8', borderWidth: 1.5},
    data: snowPts.map(s => [s.k * stepH, (300 - 588) / PX_PER_DEG])
});
series.push({
    type: 'scatter', yAxisIndex: 0, silent: true, z: 6,
    symbolSize: 0,
    label: {
        show: true, position: [0, 0], rotate: 90, align: 'left', verticalAlign: 'middle',
        formatter: p => p.data[2] + '%',
        color: '#0000ff', fontFamily: MONO, fontWeight: 'bold', fontSize: 8
    },
    data: snowPts.map(s => [s.k * stepH - 1.5, (300 - 578) / PX_PER_DEG, s.v])
});

const legendItems = [];
memberColors.forEach((c, i) => {
    legendItems.push({
        type: 'rect', shape: {x: 470 + i * 10.9, y: 651, width: 10, height: 5},
        style: {fill: c}
    });
    legendItems.push({
        type: 'text', x: 475 + i * 10.9, y: 644,
        style: {
            text: String(i + 1).padStart(2, '0'), fill: '#000', font: 'bold 7px ' + MONO,
            align: 'center', verticalAlign: 'middle'
        }
    });
});

function txt(x, y, s, font, align) {
    return {
        type: 'text', x: x, y: y,
        style: {text: s, fill: '#000', font: font, align: align || 'left', verticalAlign: 'middle'}
    };
}

const option = {
    animation: false,
    backgroundColor: '#fff',
    grid: {left: 50, right: 50, top: 0, height: 600},
    xAxis: [{
        type: 'value', min: 0, max: 384, position: 'bottom',
        axisLine: {show: true, onZero: false, lineStyle: {color: '#000', width: 1.5}},
        axisTick: {show: false, customValues: gridHours},
        axisLabel: {show: false},
        splitLine: {show: true, lineStyle: {color: '#c0c0c0', width: 1}}
    }, {
        type: 'value', min: 0, max: 384, position: 'bottom',
        axisLine: {show: false},
        axisTick: {show: false},
        splitLine: {show: false},
        axisLabel: {
            show: true, customValues: labelHours, rotate: 90, margin: 3,
            formatter: v => dayLabels[Math.round((v - labelHours[0]) / 24)],
            color: '#000', fontFamily: MONO, fontSize: 10
        }
    }],
    yAxis: [{
        type: 'value', min: -halfRange, max: halfRange, position: 'left',
        axisLine: {show: true, onZero: false, lineStyle: {color: '#000', width: 1.5}},
        axisTick: {show: false, customValues: leftTicks},
        axisLabel: {
            customValues: leftTicks, margin: 18, padding: [6, 0, 0, 0],
            color: '#000', fontFamily: SANS, fontSize: 11
        },
        splitLine: {show: true, lineStyle: {color: '#c0c0c0', width: 1}}
    }, {
        type: 'value', min: -halfRange + precOffset, max: halfRange + precOffset, position: 'right',
        axisLine: {show: true, onZero: false, lineStyle: {color: '#000', width: 1.5}},
        axisTick: {show: false, customValues: rightTicks},
        axisLabel: {
            customValues: rightTicks, margin: 19, padding: [6, 0, 0, 0],
            color: '#000', fontFamily: SANS, fontSize: 11
        },
        splitLine: {show: false}
    }],
    series: series,
    graphic: [
        txt(60, 206, 'Températures 2m', '10px ' + MONO),
        txt(60, 494, 'Précipitations', '10px ' + MONO),
        txt(20, 607, '(°C)', '10px ' + MONO),
        txt(710, 607, '(mm)', '10px ' + MONO),
        {type: 'line', shape: {x1: 35, y1: 652, x2: 66, y2: 652}, style: {stroke: '#ff0000', lineWidth: 5}},
        txt(75, 652, 'Moyenne des scénarios', '10px ' + MONO),
        {type: 'line', shape: {x1: 225, y1: 637, x2: 256, y2: 637}, style: {stroke: '#0000ff', lineWidth: 4}},
        {type: 'line', shape: {x1: 225, y1: 647, x2: 256, y2: 647}, style: {stroke: '#000000', lineWidth: 4}},
        txt(265, 637, 'Run de contrôle', '10px ' + MONO),
        txt(265, 647, 'Run GFS', '10px ' + MONO),
        txt(368, 652, '20 Perturbations', '10px ' + MONO),
        {type: 'rect', shape: {x: 20.5, y: 667.5, width: 420, height: 31}, style: {fill: 'none', stroke: '#000', lineWidth: 1.5}},
        txt(30, 678, 'Diagramme des ensembles GEFS sur 384h : 52.1N 5.2E', 'bold 11.7px ' + MONO),
        txt(30, 692, 'Température 2m (°C) , précipitations (mm)', '10px ' + MONO),
        txt(450, 673, 'Ensemble GEFS du 21/12/2014 - 06Z', '10px ' + MONO),
        txt(450, 692, 'Copyright 2014 Meteociel.fr', 'bold 11.7px ' + MONO)
    ].concat(legendItems)
};

const chart = echarts.init(document.getElementById('chart'), null, {renderer: 'canvas'});
chart.setOption(option);
</script>
</body>
</html>
